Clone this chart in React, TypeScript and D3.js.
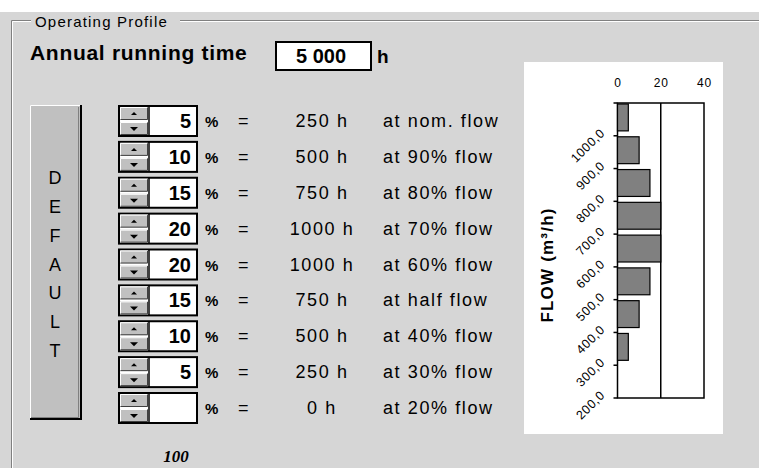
import { useEffect, useRef } from 'react';
import * as d3 from 'd3';

// operating profile: share of annual running time per flow level
const annualHours = 5000;
const shares: (number | null)[] = [5, 10, 15, 20, 20, 15, 10, 5, null];
const flowNames = [
  'at nom. flow', 'at 90% flow', 'at 80% flow', 'at 70% flow', 'at 60% flow',
  'at half flow', 'at 40% flow', 'at 30% flow', 'at 20% flow',
];
const flowTicks = ['1000,0', '900,0', '800,0', '700,0', '600,0', '500,0', '400,0', '300,0', '200,0'];
const xTicks = [0, 20, 40];
const buttonLetters = 'DEFAULT'.split('');

const W = 759;
const H = 468;
const BG = '#d6d6d6';
const FACE = '#c0c0c0';
const UI_FONT = '"Liberation Sans", Arial, sans-serif';

const fmtThousands = (v: number) => d3.format(',')(v).replace(/,/g, ' ');

const Spinner = ({ cy, value }: { cy: number; value: number | null }) => {
  const x0 = 119, x1 = 149, x2 = 197, h = 30;
  const top = cy - h / 2;
  const half = h / 2;
  const btn = (y: number, bh: number, up: boolean) => {
    const mx = (x0 + x1) / 2;
    const my = y + bh / 2;
    const tri = up
      ? `M${mx - 3},${my + 1.5} L${mx + 3},${my + 1.5} L${mx},${my - 1.5} Z`
      : `M${mx - 4},${my - 1.5} L${mx + 4},${my - 1.5} L${mx},${my + 2.5} Z`;
    return (
      <g>
        <rect x={x0 + 1} y={y + 1} width={x1 - x0 - 2} height={bh - 2} fill={FACE} />
        <path d={`M${x0 + 1.5},${y + bh - 1.5} V${y + 1.5} H${x1 - 1.5}`} stroke="#fff" fill="none" />
        <path d={`M${x0 + 1.5},${y + bh - 1.5} H${x1 - 1.5} V${y + 1.5}`} stroke="#404040" fill="none" />
        <path d={tri} fill="#000" />
      </g>
    );
  };
  return (
    <g>
      <rect x={x0} y={top} width={x2 - x0} height={h} fill="#fff" stroke="#000" strokeWidth={2} />
      {btn(top, half, true)}
      {btn(top + half, half, false)}
      <line x1={x1} x2={x1} y1={top} y2={top + h} stroke="#000" strokeWidth={1.5} />
      {value != null && (
        <text x={191} y={cy + 7} textAnchor="end" fontFamily={UI_FONT} fontWeight="bold"
          fontSize={20}>{value}</text>
      )}
    </g>
  );
};

const FlowChart = () => {
  const ref = useRef<SVGGElement>(null);

  useEffect(() => {
    if (!ref.current) return;
    const g = d3.select(ref.current);
    g.selectAll('*').remove();

    const plot = { left: 617.5, right: 704, top: 103, bottom: 398 };
    const x = d3.scaleLinear().domain([0, 40]).range([plot.left, plot.right]);
    const y = d3.scaleBand<string>().domain(flowTicks).range([plot.top, plot.bottom]).padding(0);
    const bw = y.bandwidth();

    // plot frame + gridline
    g.append('rect')
      .attr('x', plot.left).attr('y', plot.top)
      .attr('width', plot.right - plot.left).attr('height', plot.bottom - plot.top)
      .attr('fill', '#fff').attr('stroke', '#000').attr('stroke-width', 1.5);
    g.append('line')
      .attr('x1', x(20)).attr('x2', x(20))
      .attr('y1', plot.top).attr('y2', plot.bottom)
      .attr('stroke', '#000').attr('stroke-width', 1.5);

    // bars
    g.selectAll('rect.bar')
      .data(shares.map((v, i) => ({ label: flowTicks[i], v: v ?? 0 })).filter(d => d.v > 0))
      .join('rect')
      .attr('class', 'bar')
      .attr('x', x(0))
      .attr('y', d => (y(d.label) as number) + 1)
      .attr('width', d => x(d.v) - x(0))
      .attr('height', bw * 0.82)
      .attr('fill', '#808080')
      .attr('stroke', '#000')
      .attr('stroke-width', 1.2);

    // top axis
    const top = g.append('g')
      .attr('transform', `translate(0,${plot.top - 13})`)
      .call(d3.axisTop(x).tickValues(xTicks).tickSize(0).tickFormat(d3.format('d')));
    top.select('.domain').remove();
    top.selectAll('text')
      .attr('font-family', UI_FONT).attr('font-size', 12).attr('letter-spacing', 0.8)
      .attr('fill', '#000');

    // left axis: ticks at band boundaries, labels under each band
    const edges = [plot.top, ...flowTicks.map(l => (y(l) as number) + bw)];
    g.selectAll('line.tick')
      .data(edges)
      .join('line')
      .attr('class', 'tick')
      .attr('x1', plot.left - 4).attr('x2', plot.left)
      .attr('y1', d => d).attr('y2', d => d)
      .attr('stroke', '#000').attr('stroke-width', 1.5);

    g.selectAll('text.ylab')
      .data(flowTicks)
      .join('text')
      .attr('class', 'ylab')
      .attr('transform', d => `translate(${plot.left - 12},${(y(d) as number) + bw - 2}) rotate(-45)`)
      .attr('text-anchor', 'end')
      .attr('font-family', UI_FONT)
      .attr('font-size', 12.5)
      .attr('letter-spacing', 0.6)
      .text(d => d);

    g.append('text')
      .attr('transform', `translate(553,265) rotate(-90)`)
      .attr('text-anchor', 'middle')
      .attr('font-family', UI_FONT)
      .attr('font-weight', 'bold')
      .attr('font-size', 17)
      .attr('letter-spacing', 1.2)
      .text('FLOW (m³/h)');
  }, []);

  return (
    <g>
      <rect x={524} y={62} width={199} height={372} fill="#fff" />
      <g ref={ref} />
    </g>
  );
};

export default function App() {
  const rowY = d3.scalePoint<number>().domain(d3.range(shares.length)).range([121, 408]);
  const letterY = d3.scalePoint<number>().domain(d3.range(buttonLetters.length)).range([177, 350]);
  const total = d3.sum(shares, d => d ?? 0);

  const rowText = { fontFamily: UI_FONT, fontSize: 18, letterSpacing: 1.6 } as const;

  return (
    <div style={{ position: 'absolute', left: 0, top: 0, width: W, height: H }}>
      <svg width={W} height={H} style={{ display: 'block' }}>
        <rect width={W} height={H} fill="#fff" />
        <rect y={12} width={W} height={H - 12} fill={BG} />

        {/* group box */}
        <path d={`M${W},20.5 H180 M31,20.5 H11.5 V${H}`} stroke="#808080" fill="none" />
        <path d={`M${W},21.5 H180 M31,21.5 H12.5 V${H}`} stroke="#fff" fill="none" />
        <text x={35} y={27} fontFamily={UI_FONT} fontSize={15} letterSpacing={1.2}>Operating Profile</text>

        <text x={30} y={60} fontFamily={UI_FONT} fontWeight="bold" fontSize={21} letterSpacing={0.7}>
          Annual running time
        </text>
        <rect x={276} y={42} width={95} height={28} fill="#fff" stroke="#000" strokeWidth={2} />
        <text x={321} y={63} textAnchor="middle" fontFamily={UI_FONT} fontWeight="bold" fontSize={20}>
          {fmtThousands(annualHours)}
        </text>
        <text x={377} y={63} fontFamily={UI_FONT} fontWeight="bold" fontSize={19}>h</text>

        {/* DEFAULT button */}
        <rect x={30} y={105} width={52} height={315} fill={FACE} />
        <path d="M30.5,420 V105.5 H82" stroke="#fff" fill="none" />
        <path d="M30,419 H81 V105" stroke="#000" strokeWidth={2} fill="none" />
        <path d="M31,417.5 H78.5 V107" stroke="#808080" fill="none" />
        {buttonLetters.map((c, i) => (
          <text key={i} x={55} y={(letterY(i) as number) + 7} textAnchor="middle"
            fontFamily={UI_FONT} fontSize={18}>{c}</text>
        ))}

        {shares.map((s, i) => {
          const cy = rowY(i) as number;
          const hours = ((s ?? 0) * annualHours) / 100;
          return (
            <g key={i}>
              <Spinner cy={cy} value={s} />
              <text x={205} y={cy + 6} fontFamily={UI_FONT} fontSize={15} fontWeight="bold">%</text>
              <text x={244} y={cy + 6} textAnchor="middle" {...rowText}>=</text>
              <text x={322} y={cy + 6} textAnchor="middle" {...rowText}>{hours} h</text>
              <text x={383} y={cy + 6} {...rowText}>{flowNames[i]}</text>
            </g>
          );
        })}

        <text x={176} y={462} textAnchor="middle" fontFamily='"Liberation Serif", serif'
          fontWeight="bold" fontStyle="italic" fontSize={17}>{total}</text>

        <FlowChart />
      </svg>
    </div>
  );
}
